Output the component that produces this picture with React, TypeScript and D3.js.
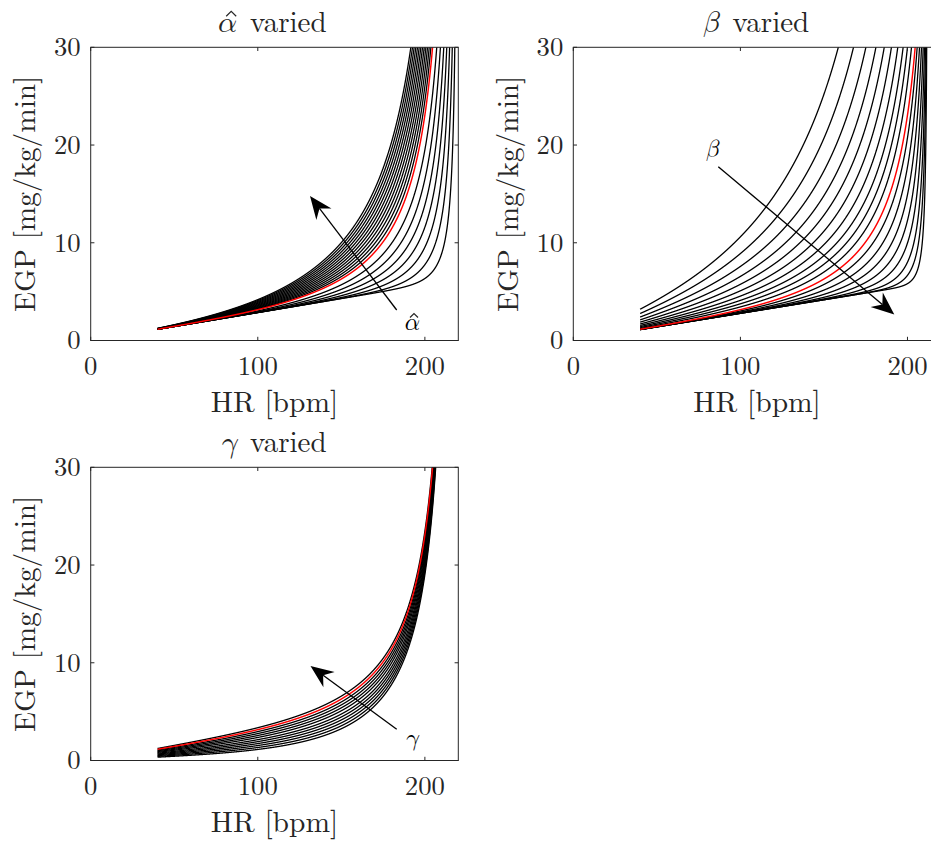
import React from "react";
import * as d3 from "d3";

const FIG_W = 931;
const FIG_H = 841;

// axes
const hrTicks = [0, 100, 200];
const egpTicks = [0, 10, 20, 30];
const hrDomain: [number, number] = [0, 220];
const egpDomain: [number, number] = [0, 30];

// model anchors
const hrStart = 40; // every curve starts at HR = 40 bpm
const hrMax = 220; // asymptote of the nominal family
const egpTop = 30; // top of the axes, where exit HR is read
const nominalStartEGP = 1.15;
const nominalExitHR = 204.6;

// alpha-hat varied: HR at which each curve leaves the top of the axes
const alphaExitHR = [
  191.6, 192.6, 193.6, 194.6, 195.6, 196.6, 197.6, 198.6, 199.6, 200.6, 201.6,
  202.6, 203.6, 204.6, 207.1, 209.3, 211.3, 213.1, 214.8, 216.4, 217.9,
];
const alphaNominal = 13;

// beta varied: EGP at HR = 40, exit HR at the top, asymptote HR
const betaStartEGP = [
  3.2, 2.76, 2.4, 2.11, 1.88, 1.69, 1.54, 1.42, 1.32, 1.23, 1.15, 1.14, 1.135,
  1.13, 1.125, 1.12, 1.115, 1.11, 1.11,
];
const betaExitHR = [
  158.6, 167.7, 175.1, 181.1, 186.1, 190.4, 194.2, 197.4, 200.0, 202.4, 204.6,
  205.8, 207.2, 208.4, 209.4, 210.2, 210.8, 211.2, 211.5,
];
const betaAsymptoteHR = [
  220, 220, 220, 220, 220, 220, 220, 220, 220, 220, 220, 218.5, 217, 215.8,
  214.8, 214, 213.3, 212.8, 212.4,
];
const betaNominal = 10;

// gamma varied: EGP at HR = 40
const gammaStartEGP = [
  0.34, 0.42, 0.5, 0.58, 0.66, 0.74, 0.83, 0.91, 0.99, 1.07, 1.15, 1.23,
];
const gammaNominal = 10;

// math-italic alpha, beta, gamma
const symbols = ["\u{1D6FC}", "\u{1D6FD}", "\u{1D6FE}"];
const symbolHasHat = [true, false, false];
const titleSuffix = "varied";
const xLabel = "HR [bpm]";
const yLabel = "EGP [mg/kg/min]";

type Params = { c: number; h: number; n: number; e: number };

function solveParams(y0: number, xe: number, h: number): Params {
  let n = 3;
  let c = y0 / hrStart;
  for (let i = 0; i < 200; i++) {
    c = (y0 * (1 - Math.pow(hrStart / h, n))) / hrStart;
    n = Math.log(1 - (c * xe) / egpTop) / Math.log(xe / h);
  }
  return { c, h, n, e: 0 };
}

function egp(p: Params, x: number): number {
  const g = Math.pow(x / p.h, p.n);
  return (p.c * x) / (1 - g) - p.e * x;
}

function sampleCurve(p: Params): [number, number][] {
  const pts: [number, number][] = [];
  for (let i = 0; ; i++) {
    const x = hrStart + i * 0.05;
    if (x >= p.h) break;
    const y = egp(p, x);
    pts.push([x, y]);
    if (y > egpTop * 1.2) break;
  }
  return pts;
}

const nominal = solveParams(nominalStartEGP, nominalExitHR, hrMax);

const alphaParams: Params[] = alphaExitHR.map((xe) => ({
  c: nominal.c,
  h: hrMax,
  n: Math.log(1 - (nominal.c * xe) / egpTop) / Math.log(xe / hrMax),
  e: 0,
}));

const betaParams: Params[] = betaStartEGP.map((y0, i) =>
  solveParams(y0, betaExitHR[i], betaAsymptoteHR[i])
);

const nominalStartValue = egp(nominal, hrStart);
const gammaParams: Params[] = gammaStartEGP.map((y0) => ({
  ...nominal,
  e: (nominalStartValue - y0) / hrStart,
}));

const FONT = "'Latin Modern Roman', 'Liberation Serif', serif";
const GREEK_FONT = "'Latin Modern Math', 'Liberation Serif', serif";
const INK = "#262626";

const AX_W = 367.6;
const AX_H = 293.2;
const LINE_W = 1.3;

type PanelProps = {
  left: number;
  top: number;
  params: Params[];
  nominalIndex: number;
  symbol: string;
  hat: boolean;
  id: string;
  arrow: { tail: [number, number]; tip: [number, number] };
  label: { x: number; y: number };
};

function Hat({ cx, yb, w, h }: { cx: number; yb: number; w: number; h: number }) {
  return (
    <path
      d={`M${cx - w / 2},${yb} L${cx},${yb - h} L${cx + w / 2},${yb}`}
      fill="none"
      stroke={INK}
      strokeWidth={1.2}
      strokeLinejoin="miter"
    />
  );
}

function Arrow({ tail, tip }: { tail: [number, number]; tip: [number, number] }) {
  const dx = tip[0] - tail[0];
  const dy = tip[1] - tail[1];
  const len = Math.hypot(dx, dy);
  const ux = dx / len;
  const uy = dy / len;
  const px = -uy;
  const py = ux;
  const L = 23;
  const Wd = 9.5;
  const bx = tip[0] - ux * L;
  const by = tip[1] - uy * L;
  const nx = tip[0] - ux * L * 0.68;
  const ny = tip[1] - uy * L * 0.68;
  const head = [
    [tip[0], tip[1]],
    [bx + px * Wd, by + py * Wd],
    [nx, ny],
    [bx - px * Wd, by - py * Wd],
  ];
  return (
    <g>
      <line x1={tail[0]} y1={tail[1]} x2={nx} y2={ny} stroke="#000" strokeWidth={1.3} />
      <polygon points={head.map((p) => p.join(",")).join(" ")} fill="#000" />
    </g>
  );
}

function Panel({ left, top, params, nominalIndex, symbol, hat, id, arrow, label }: PanelProps) {
  const x = d3.scaleLinear().domain(hrDomain).range([0, AX_W]);
  const y = d3.scaleLinear().domain(egpDomain).range([AX_H, 0]);
  const line = d3
    .line<[number, number]>()
    .x((d) => x(d[0]))
    .y((d) => y(d[1]));
  const tick = 3.7;
  const order = params.map((_, i) => i).filter((i) => i !== nominalIndex);
  const cx = AX_W / 2;
  const greekEnd = cx - 37.3;
  const variedStart = cx - 24.5;
  const titleBase = -15.6;
  return (
    <g transform={`translate(${left},${top})`}>
      <defs>
        <clipPath id={id}>
          <rect x={0} y={0} width={AX_W} height={AX_H} />
        </clipPath>
      </defs>
      <g clipPath={`url(#${id})`}>
        {order.map((i) => (
          <path
            key={i}
            d={line(sampleCurve(params[i])) || ""}
            fill="none"
            stroke="#000"
            strokeWidth={LINE_W}
          />
        ))}
        <path
          d={line(sampleCurve(params[nominalIndex])) || ""}
          fill="none"
          stroke="#ff0000"
          strokeWidth={LINE_W + 0.15}
        />
      </g>
      <rect x={0} y={0} width={AX_W} height={AX_H} fill="none" stroke={INK} strokeWidth={1} />
      {hrTicks.map((t) => (
        <g key={"x" + t}>
          <line x1={x(t)} x2={x(t)} y1={AX_H} y2={AX_H - tick} stroke={INK} />
          <line x1={x(t)} x2={x(t)} y1={0} y2={tick} stroke={INK} />
          <text
            x={x(t)}
            y={AX_H + 34.5}
            textAnchor="middle"
            fontFamily={FONT}
            fontSize={26.7}
            fill={INK}
          >
            {t}
          </text>
        </g>
      ))}
      {egpTicks.map((t) => (
        <g key={"y" + t}>
          <line x1={0} x2={tick} y1={y(t)} y2={y(t)} stroke={INK} />
          <line x1={AX_W - tick} x2={AX_W} y1={y(t)} y2={y(t)} stroke={INK} />
          <text
            x={-10}
            y={y(t) + 8.8}
            textAnchor="end"
            fontFamily={FONT}
            fontSize={26.7}
            fill={INK}
          >
            {t}
          </text>
        </g>
      ))}
      <text
        x={AX_W / 2}
        y={AX_H + 71.5}
        textAnchor="middle"
        fontFamily={FONT}
        fontSize={29.5}
        fill={INK}
      >
        {xLabel}
      </text>
      <text
        transform={`translate(${-55.7},${AX_H / 2}) rotate(-90)`}
        textAnchor="middle"
        fontFamily={FONT}
        fontSize={29.3}
        fill={INK}
      >
        {yLabel}
      </text>
      <text
        x={greekEnd}
        y={titleBase}
        textAnchor="end"
        fontFamily={GREEK_FONT}
        fontSize={30}
        fill={INK}
      >
        {symbol}
      </text>
      {hat && <Hat cx={greekEnd - 6} yb={titleBase - 15.5} w={10} h={4.8} />}
      <text
        x={variedStart}
        y={titleBase}
        textAnchor="start"
        fontFamily={FONT}
        fontSize={29}
        fill={INK}
      >
        {titleSuffix}
      </text>
      <Arrow tail={arrow.tail} tip={arrow.tip} />
      <text
        x={label.x}
        y={label.y}
        textAnchor="middle"
        fontFamily={GREEK_FONT}
        fontSize={24}
        fill="#000"
      >
        {symbol}
      </text>
      {hat && <Hat cx={label.x + 1.5} yb={label.y - 12.5} w={8} h={4} />}
    </g>
  );
}

export default function App() {
  const p1 = { left: 90.7, top: 47.3 };
  const p2 = { left: 573.3, top: 47.3 };
  const p3 = { left: 90.7, top: 467.3 };
  return (
    <svg
      width={FIG_W}
      height={FIG_H}
      viewBox={`0 0 ${FIG_W} ${FIG_H}`}
      style={{ position: "absolute", left: 0, top: 0, background: "#fff" }}
    >
      <rect x={0} y={0} width={FIG_W} height={FIG_H} fill="#fff" />
      <Panel
        {...p1}
        id="clip1"
        params={alphaParams}
        nominalIndex={alphaNominal}
        symbol={symbols[0]}
        hat={symbolHasHat[0]}
        arrow={{ tail: [396.7 - p1.left, 310 - p1.top], tip: [310 - p1.left, 196 - p1.top] }}
        label={{ x: 412.5 - p1.left, y: 330 - p1.top }}
      />
      <Panel
        {...p2}
        id="clip2"
        params={betaParams}
        nominalIndex={betaNominal}
        symbol={symbols[1]}
        hat={symbolHasHat[1]}
        arrow={{ tail: [718.3 - p2.left, 166.7 - p2.top], tip: [894.3 - p2.left, 314.5 - p2.top] }}
        label={{ x: 712.5 - p2.left, y: 157 - p2.top }}
      />
      <Panel
        {...p3}
        id="clip3"
        params={gammaParams}
        nominalIndex={gammaNominal}
        symbol={symbols[2]}
        hat={symbolHasHat[2]}
        arrow={{ tail: [396.7 - p3.left, 729.3 - p3.top], tip: [310.5 - p3.left, 666 - p3.top] }}
        label={{ x: 412.5 - p3.left, y: 746 - p3.top }}
      />
    </svg>
  );
}
